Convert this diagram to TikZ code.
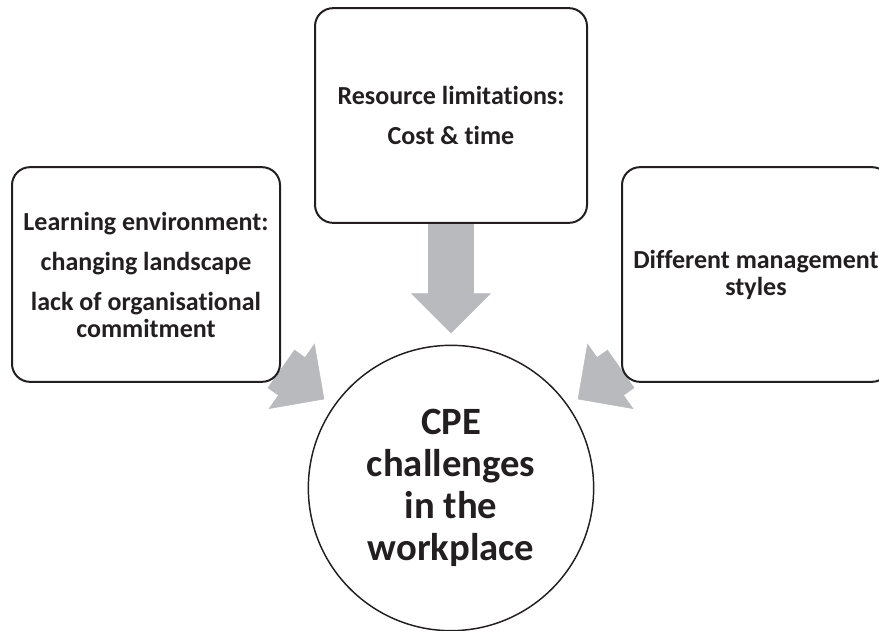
\documentclass[tikz,border=0pt]{standalone}
\usepackage{fontspec}
\setmainfont{Carlito}[Ligatures=NoCommon]
\usetikzlibrary{arrows.meta,backgrounds}
\definecolor{inkgrey}{RGB}{35,31,32}
\definecolor{arrowgrey}{RGB}{184,186,190}
\tikzset{
  challenge box/.style={
    draw=inkgrey,
    line width=1.5pt,
    fill=white,
    rounded corners=13.5pt,
    minimum width=201pt,
    minimum height=161pt,
    align=center,
    text=inkgrey,
    font=\fontsize{19.5}{20.25}\selectfont\bfseries
  },
  hub node/.style={
    draw=inkgrey,
    line width=1.1pt,
    fill=white,
    circle,
    minimum size=214pt,
    align=center,
    text=inkgrey,
    font=\fontsize{29}{31.5}\selectfont\bfseries
  },
  % wide shaft, then a thin pass that only carries the head
  push arrow/.style={
    draw=arrowgrey,
    line width=35pt,
    shorten >=37pt,
    postaction={
      draw=arrowgrey,
      line width=0.4pt,
      shorten >=8.5pt,
      -{Triangle[width=60pt,length=30pt,fill=arrowgrey]}
    }
  }
}

\begin{document}
\begin{tikzpicture}[x=0.75pt,y=-0.75pt]

  \useasboundingbox (0,0) rectangle (879,631);
  \clip (0,0) rectangle (879,631);

  \node[challenge box, minimum width=204pt] (top) at (451,115.5)
    {Resource limitations:\\[9.75pt]Cost \& time};
  \node[challenge box] (lbox) at (146,274.5)
    {Learning environment:\\[9.75pt]changing landscape\\[9.75pt]lack of organisational\\commitment};
  \node[challenge box] (rbox) at (756,274.5)
    {Different management\\styles};

  \node[hub node] (hub) at (451,488)
    {CPE\\challenges\\in the\\workplace};

  % grey arrows sit behind the boxes
  \begin{scope}[on background layer]
    \draw[push arrow] (top) -- (hub);
    \draw[push arrow] (lbox) -- (hub);
    \draw[push arrow] (rbox) -- (hub);
  \end{scope}

\end{tikzpicture}
\end{document}
